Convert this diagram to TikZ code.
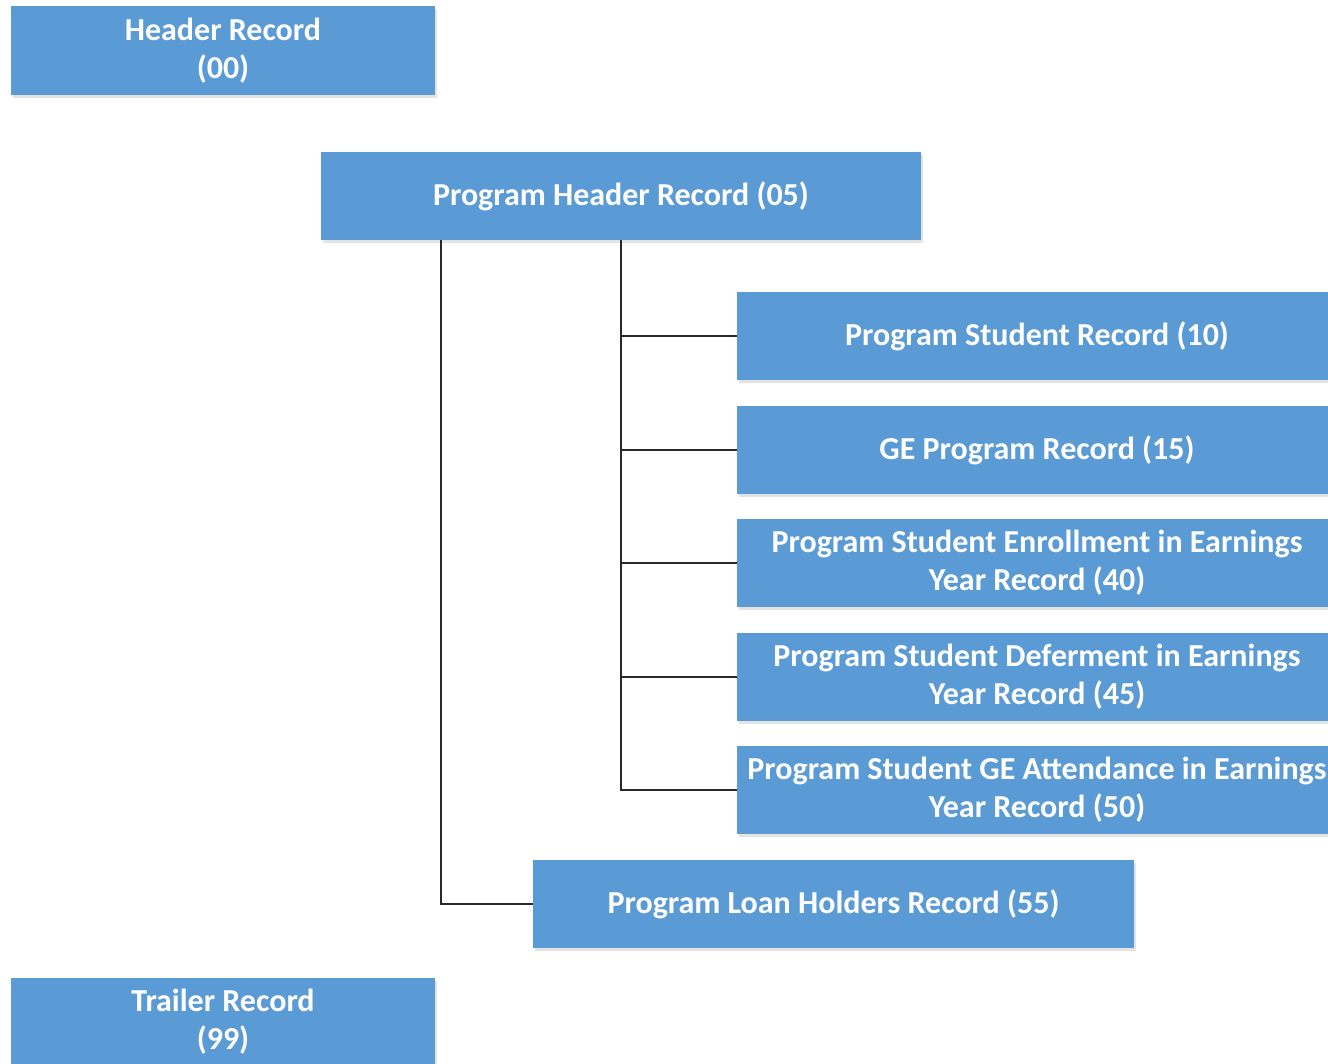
\documentclass[tikz,border=0pt]{standalone}
\usepackage{fontspec}
\newfontfamily\carlito{Carlito}
\usetikzlibrary{calc,shadows}
\definecolor{boxblue}{RGB}{91,155,213}
\definecolor{linegray}{RGB}{40,40,40}
\tikzset{
  rec/.style={rectangle, fill=boxblue, inner sep=0pt, align=center,
    text=white, font=\carlito\bfseries\fontsize{32}{38}\selectfont,
    minimum height=88pt,
    drop shadow={shadow xshift=1.5pt, shadow yshift=-3pt, opacity=0.18, fill=black!60}},
  conn/.style={draw=linegray, line width=1.4pt}
}
\begin{document}
\begin{tikzpicture}[x=1pt,y=-1pt]
\useasboundingbox (0,0) rectangle (1328,1063);
\clip (0,0) rectangle (1328,1063);
\fill[white] (0,0) rectangle (1328,1063);
\node[rec, minimum width=424pt, minimum height=89pt] (h00) at (223,50.5) {Header Record\\(00)};
\node[rec, minimum width=600pt] (ph05) at (621,196) {Program Header Record (05)};
\node[rec, minimum width=600pt] (r10) at (1037,336) {Program Student Record (10)};
\node[rec, minimum width=600pt] (r15) at (1037,450) {GE Program Record (15)};
\node[rec, minimum width=600pt] (r40) at (1037,563) {Program Student Enrollment in Earnings\\Year Record (40)};
\node[rec, minimum width=600pt] (r45) at (1037,677) {Program Student Deferment in Earnings\\Year Record (45)};
\node[rec, minimum width=600pt] (r50) at (1037,790) {Program Student GE Attendance in Earnings\\Year Record (50)};
\node[rec, minimum width=601pt] (r55) at (833.5,904) {Program Loan Holders Record (55)};
\node[rec, minimum width=424pt] (t99) at (223,1022) {Trailer Record\\(99)};
% connectors
\coordinate (ta) at ($(ph05.south west)+(120,0)$);
\draw[conn] (ta) |- (r55.west);
\draw[conn] (ph05.south) |- (r50.west);
\foreach \r in {r10,r15,r40,r45}
  \draw[conn] (ph05.south |- \r.west) -- (\r.west);
\end{tikzpicture}
\end{document}
